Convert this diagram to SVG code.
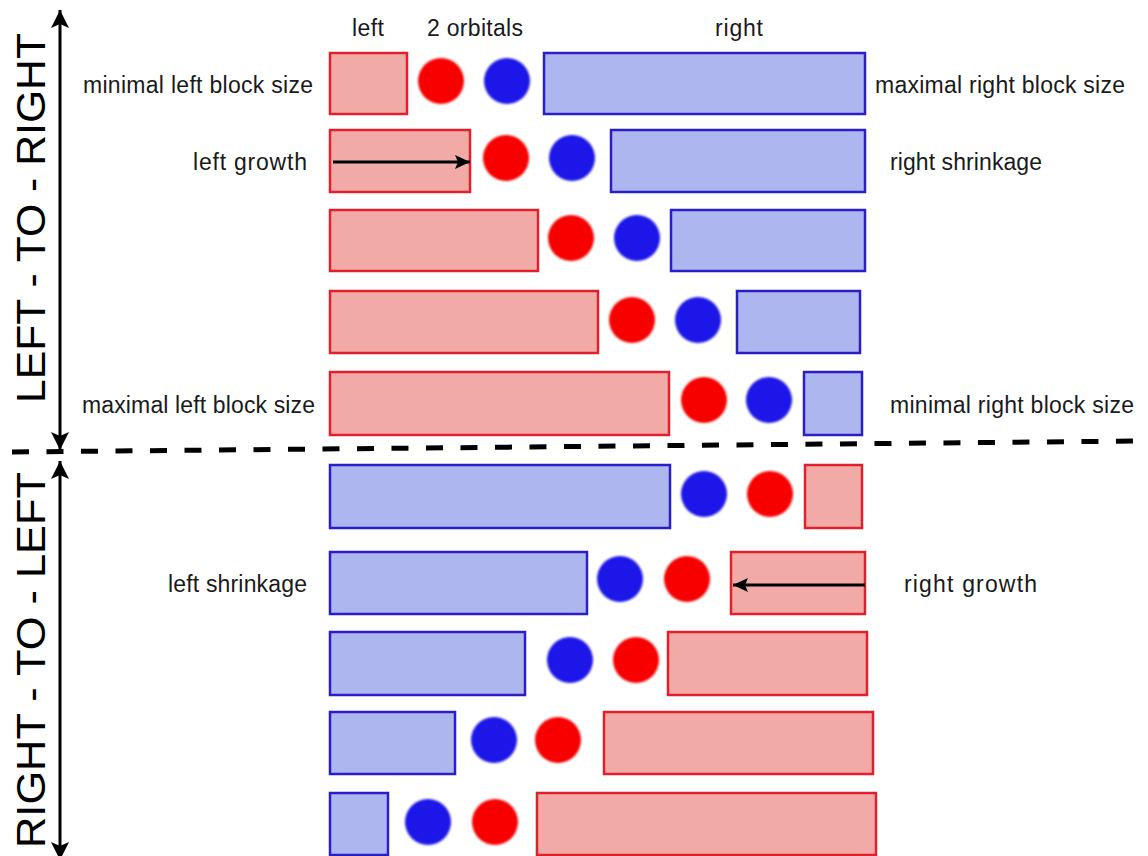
<svg xmlns="http://www.w3.org/2000/svg" width="1148" height="856" viewBox="0 0 1148 856">
  <style>
    .lbl { font-family: "Liberation Sans", Arial, sans-serif; font-size: 23px; fill: #1a1a1a; }
    .big { font-family: "Liberation Sans", Arial, sans-serif; font-size: 41px; fill: #000; }
    .rb { fill: #F2AAA7; stroke: #E0202C; stroke-width: 2.5; }
    .bb { fill: #AEB6F0; stroke: #2A1FC4; stroke-width: 2.5; }
    .rc { fill: #F80606; }
    .bc { fill: #1E14E8; }
    .arr { stroke: #000; stroke-width: 3; fill: none; }
  </style>
  <defs>
    <filter id="soft" x="-20%" y="-20%" width="140%" height="140%">
      <feGaussianBlur stdDeviation="0.8"/>
    </filter>
    <marker id="headV" markerUnits="userSpaceOnUse" markerWidth="24" markerHeight="24" refX="18" refY="9" orient="auto-start-reverse">
      <path d="M18,9 L0,0 L4,9 L0,18 Z" fill="#000"/>
    </marker>
    <marker id="headH" markerUnits="userSpaceOnUse" markerWidth="20" markerHeight="20" refX="15" refY="7" orient="auto">
      <path d="M15,7 L0,0 L3,7 L0,14 Z" fill="#000"/>
    </marker>
  </defs>

  <!-- column headers -->
  <g id="headers">
    <text class="lbl" x="352" y="36" textLength="32">left</text>
    <text class="lbl" x="427" y="36" textLength="96">2 orbitals</text>
    <text class="lbl" x="715" y="36" textLength="48">right</text>
  </g>

  <!-- side titles -->
  <g id="title-ltr">
    <text class="big" transform="translate(45,218) rotate(-90)" text-anchor="middle" textLength="370" lengthAdjust="spacingAndGlyphs">LEFT - TO - RIGHT</text>
  </g>
  <g id="title-rtl">
    <text class="big" transform="translate(45,660) rotate(-90)" text-anchor="middle" textLength="376" lengthAdjust="spacingAndGlyphs">RIGHT - TO - LEFT</text>
  </g>

  <!-- left-to-right sweep -->
  <g id="row1">
    <rect class="rb" x="330" y="53" width="77" height="61"/>
    <circle class="rc" cx="441" cy="81" r="23" filter="url(#soft)"/>
    <circle class="bc" cx="507" cy="81" r="23" filter="url(#soft)"/>
    <rect class="bb" x="544" y="53" width="321" height="61"/>
    <text class="lbl" x="83" y="93" textLength="230">minimal left block size</text>
    <text class="lbl" x="875" y="93" textLength="250">maximal right block size</text>
  </g>
  <g id="row2">
    <rect class="rb" x="330" y="130" width="140" height="62"/>
    <circle class="rc" cx="506" cy="158" r="23" filter="url(#soft)"/>
    <circle class="bc" cx="572" cy="158" r="23" filter="url(#soft)"/>
    <rect class="bb" x="611" y="130" width="254" height="62"/>
    <text class="lbl" x="193" y="170" textLength="114">left growth</text>
    <text class="lbl" x="890" y="170" textLength="152">right shrinkage</text>
  </g>
  <g id="row3">
    <rect class="rb" x="330" y="210" width="208" height="61"/>
    <circle class="rc" cx="571" cy="238" r="23" filter="url(#soft)"/>
    <circle class="bc" cx="637" cy="238" r="23" filter="url(#soft)"/>
    <rect class="bb" x="671" y="210" width="194" height="61"/>
  </g>
  <g id="row4">
    <rect class="rb" x="330" y="291" width="268" height="62"/>
    <circle class="rc" cx="632" cy="320" r="23" filter="url(#soft)"/>
    <circle class="bc" cx="698" cy="320" r="23" filter="url(#soft)"/>
    <rect class="bb" x="737" y="291" width="123" height="62"/>
  </g>
  <g id="row5">
    <rect class="rb" x="330" y="372" width="339" height="63"/>
    <circle class="rc" cx="704" cy="400" r="23" filter="url(#soft)"/>
    <circle class="bc" cx="769" cy="400" r="23" filter="url(#soft)"/>
    <rect class="bb" x="804" y="372" width="58" height="63"/>
    <text class="lbl" x="82" y="413" textLength="233">maximal left block size</text>
    <text class="lbl" x="890" y="413" textLength="244">minimal right block size</text>
  </g>

  <!-- right-to-left sweep -->
  <g id="row6">
    <rect class="bb" x="330" y="465" width="340" height="63"/>
    <circle class="bc" cx="704" cy="494" r="23" filter="url(#soft)"/>
    <circle class="rc" cx="770" cy="494" r="23" filter="url(#soft)"/>
    <rect class="rb" x="805" y="465" width="57" height="63"/>
  </g>
  <g id="row7">
    <rect class="bb" x="330" y="552" width="257" height="62"/>
    <circle class="bc" cx="620" cy="579" r="23" filter="url(#soft)"/>
    <circle class="rc" cx="687" cy="579" r="23" filter="url(#soft)"/>
    <rect class="rb" x="731" y="552" width="134" height="62"/>
    <text class="lbl" x="168" y="592" textLength="139">left shrinkage</text>
    <text class="lbl" x="904" y="592" textLength="133">right growth</text>
  </g>
  <g id="row8">
    <rect class="bb" x="330" y="632" width="195" height="63"/>
    <circle class="bc" cx="570" cy="660" r="23" filter="url(#soft)"/>
    <circle class="rc" cx="636" cy="660" r="23" filter="url(#soft)"/>
    <rect class="rb" x="668" y="632" width="199" height="63"/>
  </g>
  <g id="row9">
    <rect class="bb" x="330" y="712" width="125" height="62"/>
    <circle class="bc" cx="494" cy="740" r="23" filter="url(#soft)"/>
    <circle class="rc" cx="558" cy="740" r="23" filter="url(#soft)"/>
    <rect class="rb" x="604" y="712" width="269" height="62"/>
  </g>
  <g id="row10">
    <rect class="bb" x="330" y="793" width="58" height="62"/>
    <circle class="bc" cx="428" cy="822" r="23" filter="url(#soft)"/>
    <circle class="rc" cx="495" cy="822" r="23" filter="url(#soft)"/>
    <rect class="rb" x="537" y="793" width="339" height="62"/>
  </g>

  <!-- connectors: direction arrows and divider -->
  <g id="connectors">
    <line class="arr" x1="60" y1="10" x2="60" y2="450" marker-start="url(#headV)" marker-end="url(#headV)"/>
    <line class="arr" x1="60" y1="461" x2="60" y2="860" marker-start="url(#headV)" marker-end="url(#headV)"/>
    <line class="arr" x1="333" y1="162" x2="470" y2="162" marker-end="url(#headH)"/>
    <line class="arr" x1="865" y1="585" x2="733" y2="585" marker-end="url(#headH)"/>
    <line x1="12" y1="452" x2="1140" y2="441" stroke="#000" stroke-width="5" stroke-dasharray="17 17.5"/>
  </g>
</svg>
